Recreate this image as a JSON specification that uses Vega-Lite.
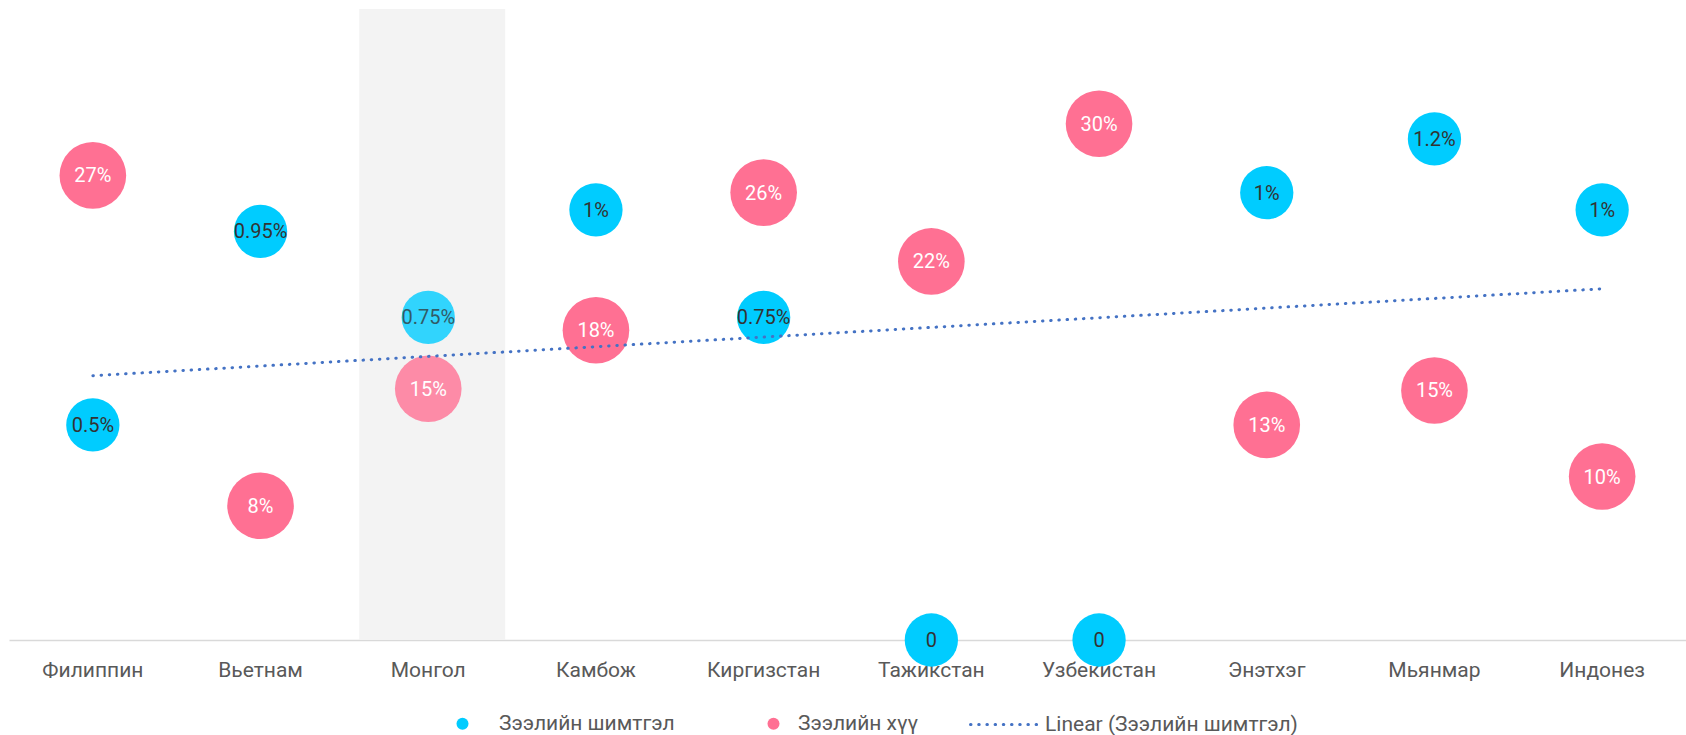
{
  "$schema": "https://vega.github.io/schema/vega-lite/v6.json",
  "width": 1677,
  "height": 631,
  "autosize": "none",
  "padding": {"left": 9, "top": 9, "right": 0, "bottom": 95},
  "background": "white",
  "config": {
    "font": "Roboto",
    "view": {"stroke": null}
  },
  "datasets": {
    "main": [
      {"idx": 1, "country": "Филиппин", "fee": 0.5, "feeLabel": "0.5%", "rate": 27, "rateLabel": "27%"},
      {"idx": 2, "country": "Вьетнам", "fee": 0.95, "feeLabel": "0.95%", "rate": 7.8, "rateLabel": "8%"},
      {"idx": 3, "country": "Монгол", "fee": 0.75, "feeLabel": "0.75%", "rate": 14.6, "rateLabel": "15%"},
      {"idx": 4, "country": "Камбож", "fee": 1.0, "feeLabel": "1%", "rate": 18, "rateLabel": "18%"},
      {"idx": 5, "country": "Киргизстан", "fee": 0.75, "feeLabel": "0.75%", "rate": 26, "rateLabel": "26%"},
      {"idx": 6, "country": "Тажикстан", "fee": 0, "feeLabel": "0", "rate": 22, "rateLabel": "22%"},
      {"idx": 7, "country": "Узбекистан", "fee": 0, "feeLabel": "0", "rate": 30, "rateLabel": "30%"},
      {"idx": 8, "country": "Энэтхэг", "fee": 1.04, "feeLabel": "1%", "rate": 12.5, "rateLabel": "13%"},
      {"idx": 9, "country": "Мьянмар", "fee": 1.165, "feeLabel": "1.2%", "rate": 14.5, "rateLabel": "15%"},
      {"idx": 10, "country": "Индонез", "fee": 1.0, "feeLabel": "1%", "rate": 9.5, "rateLabel": "10%"}
    ]
  },
  "data": {"name": "main"},
  "encoding": {
    "x": {
      "field": "country",
      "type": "nominal",
      "sort": null,
      "scale": {
        "type": "band",
        "domain": ["Филиппин", "Вьетнам", "Монгол", "Камбож", "Киргизстан", "Тажикстан", "Узбекистан", "Энэтхэг", "Мьянмар", "Индонез"],
        "paddingInner": 0,
        "paddingOuter": 0
      },
      "axis": {
        "title": null,
        "orient": "bottom",
        "labelAngle": 0,
        "labelFontSize": 21,
        "labelColor": "#595959",
        "labelPadding": 19,
        "ticks": false,
        "grid": false,
        "domainColor": "#d9d9d9",
        "domainWidth": 1.5
      }
    }
  },
  "layer": [
    {
      "transform": [{"filter": "datum.country === 'Монгол'"}],
      "mark": {"type": "bar", "color": "#f3f3f3", "width": {"band": 0.87}, "xOffset": 4}
    },
    {
      "mark": {"type": "circle", "size": 2840},
      "encoding": {
        "y": {"field": "fee", "type": "quantitative", "scale": {"domain": [0, 1.467]}, "axis": null},
        "color": {
          "datum": "Зээлийн шимтгэл",
          "type": "nominal",
          "scale": {"domain": ["Зээлийн шимтгэл", "Зээлийн хүү"], "range": ["#00CCFF", "#FF7093"]},
          "legend": {
            "title": null,
            "orient": "none",
            "legendX": 443,
            "legendY": 704,
            "direction": "horizontal",
            "padding": 0,
            "symbolType": "circle",
            "symbolSize": 144,
            "symbolOpacity": 1,
            "symbolStrokeWidth": 0,
            "labelOffset": 26,
            "columnPadding": 88,
            "labelFontSize": 21,
            "labelLimit": 0,
            "labelColor": "#595959",
            "labelFont": "Roboto",
            "encode": {"labels": {"update": {"dx": {"signal": "datum.index === 1 ? -12 : 0"}}}}
          }
        },
        "opacity": {"condition": {"test": "datum.country === 'Монгол'", "value": 0.8}, "value": 1}
      }
    },
    {
      "mark": {"type": "circle", "size": 4440},
      "encoding": {
        "y": {"field": "rate", "type": "quantitative", "scale": {"domain": [0, 36.67]}, "axis": null},
        "color": {"datum": "Зээлийн хүү", "type": "nominal"},
        "opacity": {"condition": {"test": "datum.country === 'Монгол'", "value": 0.8}, "value": 1}
      }
    },
    {
      "transform": [
        {"regression": "fee", "on": "idx"},
        {"lookup": "idx", "from": {"data": {"name": "main"}, "key": "idx", "fields": ["country"]}}
      ],
      "mark": {"type": "line", "color": "#4472C4", "strokeWidth": 3, "strokeCap": "round"},
      "encoding": {
        "y": {"field": "fee", "type": "quantitative", "scale": {"domain": [0, 1.467]}, "axis": null},
        "strokeDash": {
          "datum": "Linear (Зээлийн шимтгэл)",
          "type": "nominal",
          "scale": {"domain": ["Linear (Зээлийн шимтгэл)"], "range": [[0.5, 7.7]]},
          "legend": {
            "title": null,
            "orient": "none",
            "legendX": 960,
            "legendY": 678,
            "padding": 0,
            "symbolType": "stroke",
            "symbolSize": 5184,
            "symbolStrokeColor": "#4472C4",
            "symbolStrokeWidth": 3,
            "labelOffset": 1,
            "labelFontSize": 21,
            "labelLimit": 0,
            "labelColor": "#595959",
            "labelFont": "Roboto",
            "encode": {"symbols": {"update": {"strokeCap": {"value": "round"}}}}
          }
        }
      }
    },
    {
      "mark": {"type": "text", "fontSize": 20, "align": "center", "baseline": "middle", "dy": 1, "color": "#333333"},
      "encoding": {
        "y": {"field": "fee", "type": "quantitative", "scale": {"domain": [0, 1.467]}, "axis": null},
        "text": {"field": "feeLabel"},
        "opacity": {"condition": {"test": "datum.country === 'Монгол'", "value": 0.75}, "value": 1}
      }
    },
    {
      "mark": {"type": "text", "fontSize": 20, "align": "center", "baseline": "middle", "dy": 1, "color": "white"},
      "encoding": {
        "y": {"field": "rate", "type": "quantitative", "scale": {"domain": [0, 36.67]}, "axis": null},
        "text": {"field": "rateLabel"}
      }
    }
  ],
  "resolve": {"scale": {"y": "independent"}}
}
